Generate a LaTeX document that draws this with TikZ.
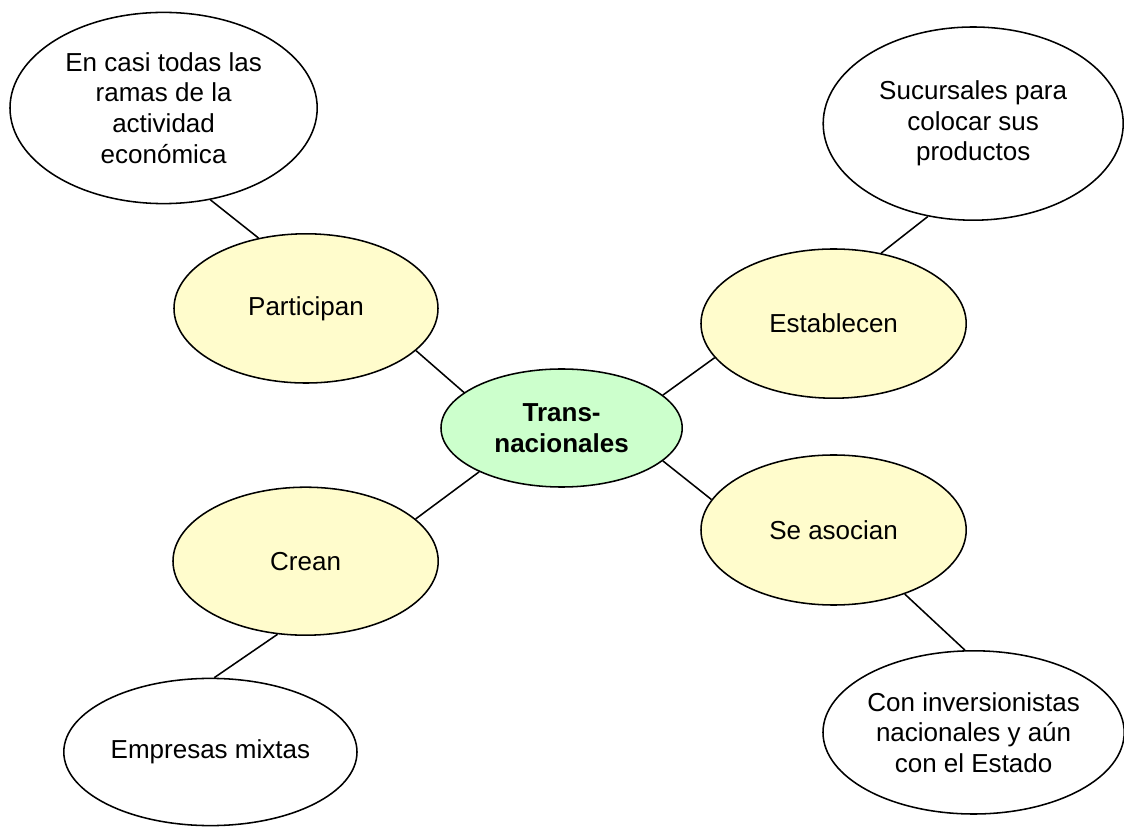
\documentclass[tikz,border=0pt]{standalone}
\usepackage{fontspec}
\setmainfont{Liberation Sans}
\usetikzlibrary{shapes.geometric}

\begin{document}
\begin{tikzpicture}[x=1cm,y=1cm]
\tikzset{
  idea/.style={ellipse,draw,line width=1.1pt,inner sep=0pt,align=center,
    font=\fontsize{18.5}{21.8}\selectfont},
  mainidea/.style={idea,fill=green!20,font=\fontsize{18.5}{22.5}\selectfont\bfseries},
  verbidea/.style={idea,fill=yellow!20},
  detail/.style={idea,fill=white},
  link/.style={line width=1.1pt}
}
\useasboundingbox (0,0) rectangle (28.1,-20.675);
\node[mainidea,minimum width=6.03cm,minimum height=2.95cm] (n_trans) at (14.04,-10.70) {Trans-\\nacionales};
\node[verbidea,minimum width=6.60cm,minimum height=3.73cm] (n_part) at (7.65,-7.71) {Participan};
\node[verbidea,minimum width=6.63cm,minimum height=3.73cm] (n_estab) at (20.84,-8.09) {Establecen};
\node[verbidea,minimum width=6.63cm,minimum height=3.75cm] (n_asoc) at (20.84,-13.25) {Se asocian};
\node[verbidea,minimum width=6.63cm,minimum height=3.70cm] (n_crean) at (7.64,-14.03) {Crean};
\node[detail,minimum width=7.68cm,minimum height=4.78cm] (n_ramas) at (4.09,-2.70) {En casi todas las\\ramas de la\\actividad\\económica};
\node[detail,minimum width=7.50cm,minimum height=4.83cm] (n_sucur) at (24.33,-3.09) {Sucursales para\\colocar sus\\productos};
\node[detail,minimum width=7.33cm,minimum height=3.68cm] (n_empr) at (5.26,-18.80) {Empresas mixtas};
\node[detail,minimum width=7.53cm,minimum height=4.08cm] (n_inver) at (24.34,-18.31) {Con inversionistas\\nacionales y aún\\con el Estado};
\draw[link] (n_ramas.-63) -- (n_part.124);
\draw[link] (n_part.-21) -- (n_trans.160);
\draw[link] (n_trans.18) -- (n_estab.196);
\draw[link] (n_estab.56) -- (n_sucur.244);
\draw[link] (n_trans.-18) -- (n_asoc.166);
\draw[link] (n_asoc.-42) -- (n_inver.96);
\draw[link] (n_trans.208) -- (n_crean.21);
\draw[link] (n_crean.249) -- (n_empr.87);
\end{tikzpicture}
\end{document}
